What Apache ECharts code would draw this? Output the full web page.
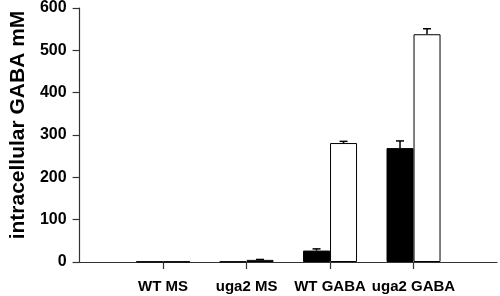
<!DOCTYPE html>
<html>
<head>
<meta charset="utf-8">
<script src="https://cdn.jsdelivr.net/npm/echarts@6/dist/echarts.min.js"></script>
<style>html,body{margin:0;padding:0;background:#fff;}#c{width:500px;height:296px;}</style>
</head>
<body>
<div id="c"></div>
<script>
var categories = ['', 'WT MS', 'uga2 MS', 'WT GABA', 'uga2 GABA', ''];
var blackValues = [null, 1, 1, 27, 269, null];
var blackErrors = [null, 0, 0, 4, 17, null];
var whiteValues = [null, 1, 5, 281, 538, null];
var whiteErrors = [null, 0, 1, 4, 13, null];
var yTicks = [0, 100, 200, 300, 400, 500, 600];

var BAR_W = 27;
var FONT = '"Liberation Sans", Arial, sans-serif';

function errData(vals, errs) {
  var out = [];
  for (var i = 0; i < vals.length; i++) {
    if (vals[i] != null && errs[i] > 0) out.push([i, vals[i], vals[i] + errs[i]]);
  }
  return out;
}

function errRender(offset) {
  return function (params, api) {
    var x = api.value(0);
    var lo = api.coord([x, api.value(1)]);
    var hi = api.coord([x, api.value(2)]);
    var cx = lo[0] + offset;
    var capHalf = 4;
    return {
      type: 'group',
      children: [
        { type: 'line', shape: { x1: cx, y1: lo[1], x2: cx, y2: hi[1] }, style: { stroke: '#000', lineWidth: 1.5 } },
        { type: 'line', shape: { x1: cx - capHalf, y1: hi[1], x2: cx + capHalf, y2: hi[1] }, style: { stroke: '#000', lineWidth: 1.5 } }
      ]
    };
  };
}

var chart = echarts.init(document.getElementById('c'), null, { renderer: 'canvas' });
chart.setOption({
  animation: false,
  backgroundColor: '#fff',
  grid: { left: 65, right: 2, top: 6, bottom: 34, containLabel: false },
  xAxis: {
    type: 'category',
    data: categories,
    boundaryGap: false,
    axisLine: { lineStyle: { color: '#333', width: 1.2 } },
    axisTick: { show: true, length: 7, interval: function (i) { return i > 0 && i < categories.length - 1; }, lineStyle: { color: '#333', width: 1.2 } },
    axisLabel: { interval: 0, margin: 17, color: '#000', fontWeight: 'bold', fontSize: 15, fontFamily: FONT },
    splitLine: { show: false }
  },
  yAxis: {
    type: 'value',
    min: yTicks[0],
    max: yTicks[yTicks.length - 1],
    interval: yTicks[1] - yTicks[0],
    name: 'intracellular GABA mM',
    nameLocation: 'middle',
    nameGap: 46,
    nameTextStyle: { color: '#000', fontWeight: 'bold', fontSize: 21, fontFamily: FONT, padding: [0, 0, 0, 20] },
    axisLine: { show: true, lineStyle: { color: '#333', width: 1.2 } },
    axisTick: { show: true, length: 7, lineStyle: { color: '#333', width: 1.2 } },
    axisLabel: { margin: 13, color: '#000', fontWeight: 'bold', fontSize: 16, fontFamily: FONT },
    splitLine: { show: false }
  },
  series: [
    {
      type: 'bar', name: 'black', data: blackValues, barWidth: BAR_W, barGap: '0%',
      itemStyle: { color: '#000', borderColor: '#000', borderWidth: 1 }
    },
    {
      type: 'bar', name: 'white', data: whiteValues, barWidth: BAR_W, barGap: '0%',
      itemStyle: { color: '#fff', borderColor: '#000', borderWidth: 1 }
    },
    {
      type: 'custom', name: 'errBlack', data: errData(blackValues, blackErrors),
      renderItem: errRender(-BAR_W / 2), z: 3
    },
    {
      type: 'custom', name: 'errWhite', data: errData(whiteValues, whiteErrors),
      renderItem: errRender(BAR_W / 2), z: 3
    }
  ]
});
</script>
</body>
</html>
